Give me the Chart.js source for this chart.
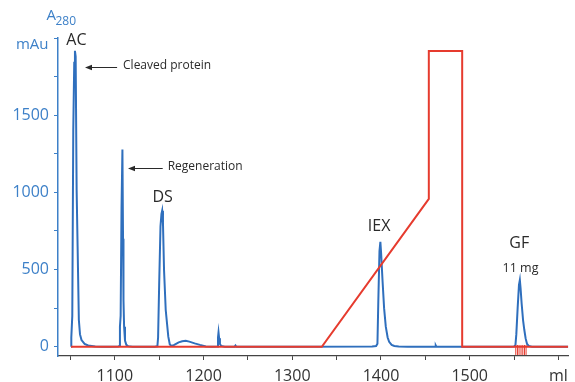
<!DOCTYPE html>
<html><head><meta charset="utf-8">
<script src="https://cdn.jsdelivr.net/npm/chart.js@4.4.1/dist/chart.umd.min.js"></script>
<style>html,body{margin:0;padding:0;background:#fff;}#wrap{width:575px;height:382px;}</style>
</head><body><div id="wrap"><canvas id="c" width="575" height="382"></canvas></div>
<script>
// ---- data ----
const blueMl = [1050.7,1051.0,1052.1,1053.2,1054.3,1055.1,1055.9,1057.0,1058.1,1059.5,1060.8,1062.5,1066,1070,1078,1085,1095,
  1104,1105.3,1105.8,1106.6,1107.6,1108.6,1109.3,1109.8,1110.5,1111.5,1113,1115,1120,1145,
  1148.0,1148.8,1150,1151.5,1152.6,1153.4,1154.3,1155.5,1157.4,1160.3,1162,1164,1167,1172,1176,1180,1184,1190,1196,1202.6,1210,
  1215.5,1216.3,1216.9,1217.6,1218.5,1220,1224,1235,1236,1237,1300,1390,1394.5,1396,1397,1398.3,1399.3,1400.2,1401.7,1403.5,1405.4,1407.5,1409.2,1412,1415,1420,1430,
  1461,1461.7,1462.4,1545,1550,1551.5,1552.5,1554,1555.5,1556.5,1557.3,1558.5,1560.1,1561.5,1563.0,1564.6,1566.5,1570,1611];
const blueMau = [0,60,200,1400,1840,1917,1880,1015,648,173,80,43,18,8,2,0,0,
  2,5,130,200,900,1278,700,302,130,40,12,4,0,0,
  3,60,400,780,860,881,800,497,238,65,15,5,12,28,36,39,33,22,12,2,0,
  2,60,93,55,18,5,0,0,8,0,0,2,5,20,300,620,680,600,432,250,130,60,32,12,5,2,0,
  0,8,0,0,2,10,80,250,400,432,380,280,173,110,54,18,5,0,0];
const gradientMl = [1050.7,1333.3,1453.9,1453.9,1491.5,1491.5,1611];
const gradientPctB = [0,0,50,100,100,0,0];
const fractionMl = [1551.9,1553.8,1555.6,1557.8,1559.8,1561.7,1563.5];
const fractionLevel = -21;
const xTickValues = [1050,1100,1150,1200,1250,1300,1350,1400,1450,1500,1550,1600];
const xTickLabels = ['','1100','','1200','','1300','','1400','','1500','','ml'];
const yTickValues = [0,250,500,750,1000,1250,1500,1750,2000];
const yTickLabels = ['0','','500','','1000','','1500','',''];

const FONT = "'Open Sans', sans-serif";
const BLUE = '#2f6fbd', AXBLUE = '#3d80c8', RED = '#e63b2e', DARK = '#2a2a2a';

const annotations = [
  {text:'AC', ml:1056.8, mau:1983, size:16, align:'center'},
  {text:'Cleaved protein', ml:1109.3, mau:1824, size:12, align:'left'},
  {text:'Regeneration', ml:1159.6, mau:1164, size:12, align:'left'},
  {text:'DS', ml:1154, mau:966, size:16, align:'center'},
  {text:'IEX', ml:1397.9, mau:777, size:16, align:'center'},
  {text:'GF', ml:1555.8, mau:672, size:16, align:'center'},
  {text:'11 mg', ml:1557.2, mau:506, size:12.5, align:'center'}
];
const arrows = [
  {fromMl:1102.6, toMl:1066.4, mau:1813},
  {fromMl:1154.0, toMl:1114.9, mau:1157}
];

const annotPlugin = {
  id:'annot',
  afterDraw(chart){
    const ctx = chart.ctx, x = chart.scales.x, y = chart.scales.y, ca = chart.chartArea;
    ctx.save();
    ctx.fillStyle = DARK; ctx.textBaseline = 'middle';
    annotations.forEach(a=>{
      ctx.font = a.size + 'px ' + FONT;
      ctx.textAlign = a.align;
      ctx.fillText(a.text, x.getPixelForValue(a.ml), y.getPixelForValue(a.mau));
    });
    ctx.strokeStyle = DARK; ctx.lineWidth = 1;
    arrows.forEach(a=>{
      const x1 = x.getPixelForValue(a.fromMl), x2 = x.getPixelForValue(a.toMl), yy = Math.round(y.getPixelForValue(a.mau))+0.5;
      ctx.beginPath(); ctx.moveTo(x1, yy); ctx.lineTo(x2+5, yy); ctx.stroke();
      ctx.beginPath(); ctx.moveTo(x2, yy); ctx.lineTo(x2+7, yy-2.8); ctx.lineTo(x2+7, yy+2.8); ctx.closePath(); ctx.fill();
    });
    ctx.fillStyle = AXBLUE;
    ctx.textAlign = 'right';
    ctx.font = '15px ' + FONT;
    ctx.fillText('mAu', ca.left - 9.5, 45);
    ctx.textAlign = 'left';
    ctx.fillText('A', 46.5, 15.5);
    ctx.font = '12px ' + FONT;
    ctx.fillText('280', 55.5, 21.5);
    ctx.restore();
  }
};

const blueData = blueMl.map((v,i)=>({x:v, y:blueMau[i]}));
const redData = gradientMl.map((v,i)=>({x:v, y:gradientPctB[i]}));
const fracData = fractionMl.map(v=>({x:v, y:fractionLevel}));

new Chart(document.getElementById('c'), {
  type:'line',
  data:{datasets:[
    {data:fracData, yAxisID:'y', showLine:false, pointStyle:'line', rotation:90, pointRadius:5, borderColor:RED, borderWidth:1, order:0},
    {data:redData, yAxisID:'y2', borderColor:RED, borderWidth:2, pointRadius:0, tension:0, order:1},
    {data:blueData, yAxisID:'y', borderColor:BLUE, borderWidth:2, pointRadius:0, tension:0, order:2}
  ]},
  options:{
    responsive:false, animation:false, devicePixelRatio:1,
    layout:{padding:{top:38,left:0,right:3,bottom:0}},
    plugins:{legend:{display:false}, tooltip:{enabled:false}},
    scales:{
      x:{type:'linear', min:1036, max:1611,
        afterBuildTicks:s=>{s.ticks = xTickValues.map(v=>({value:v}));},
        afterFit:s=>{s.height = 26;},
        ticks:{autoSkip:false, maxRotation:0, padding:7, color:'#333', font:{family:FONT, size:16},
          callback:(v,i)=>xTickLabels[i]},
        grid:{display:true, drawOnChartArea:false, drawTicks:true, tickLength:4, color:'#444', lineWidth:1},
        border:{display:true, color:'#444', width:1.2}},
      y:{type:'linear', min:-60, max:2000,
        afterBuildTicks:s=>{s.ticks = yTickValues.map(v=>({value:v}));},
        afterFit:s=>{s.width = 58;},
        ticks:{autoSkip:false, padding:5, color:AXBLUE, font:{family:FONT, size:16},
          callback:(v,i)=>yTickLabels[i]},
        grid:{display:true, drawOnChartArea:false, drawTicks:true, tickLength:4, color:AXBLUE, lineWidth:1},
        border:{display:true, color:AXBLUE, width:1.5}},
      y2:{type:'linear', display:false, min:-3.13, max:104.4}
    }
  },
  plugins:[annotPlugin]
});
</script></body></html>
